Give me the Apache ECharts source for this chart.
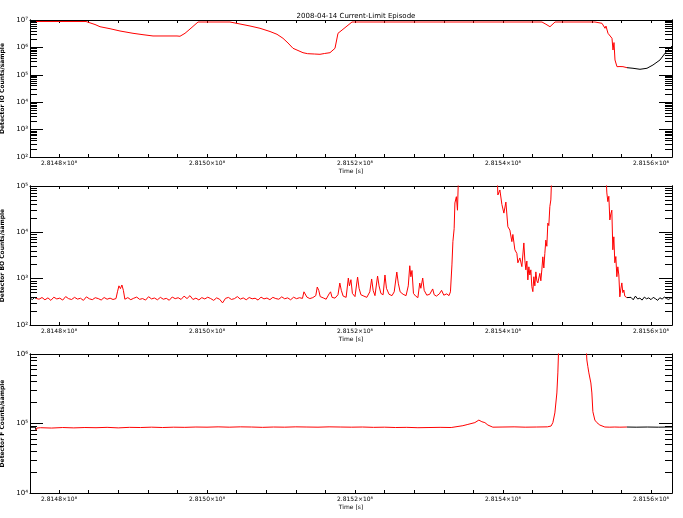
<!DOCTYPE html>
<html><head><meta charset="utf-8">
<script src="https://cdn.jsdelivr.net/npm/echarts@6/dist/echarts.min.js"></script>
<style>html,body{margin:0;padding:0;background:#fff}#c{width:683px;height:518px}</style>
</head><body><div id="c"></div>
<script>
// Time offsets (s) relative to T0 and values (counts/sample)
const T0 = 281480000;
const xMin = 281476080, xMax = 281562840;
const xMajorTicks = [281480000, 281500000, 281520000, 281540000, 281560000];
const xAllTicks = [281480000,281484000,281488000,281492000,281496000,281500000,281504000,281508000,281512000,281516000,281520000,281524000,281528000,281532000,281536000,281540000,281544000,281548000,281552000,281556000,281560000];
const panelTitles = ['Detector IO Counts/sample', 'Detector BO Counts/sample', 'Detector F Counts/sample'];
const yRanges = [[1e2, 1e7], [1e2, 1e5], [1e4, 1e6]];
const yMajor = [[1e2,1e3,1e4,1e5,1e6,1e7],[1e2,1e3,1e4,1e5],[1e4,1e5,1e6]];

// Panel 1: Detector IO
const ioHead = [[-3920, 8.8e6]];
const ioRed = [[-3108,8.8e6],[3649,8.8e6],[3919,8.45e6],[4865,6.85e6],[5541,5.69e6],[6892,4.81e6],[8243,3.97e6],[10000,3.27e6],[11351,2.91e6],[12703,2.61e6],[15946,2.61e6],[16351,2.55e6],[17027,3.27e6],[17973,5.42e6],[18784,8.45e6],[23108,8.45e6],[24459,7.15e6],[25811,6.04e6],[27162,4.98e6],[28514,3.8e6],[29459,3.01e6],[30270,2.15e6],[30946,1.45e6],[31622,9.27e5],[32973,6.41e5],[33600,5.9e5],[34500,5.74e5],[35270,5.6e5],[35900,6.0e5],[36622,6.41e5],[37297,9.27e5],[37703,3.27e6],[38378,4.58e6],[39595,8.45e6],[65270,8.45e6],[65800,7.0e6],[66351,5.69e6],[67027,8.45e6],[72432,8.45e6],[73378,7.58e6],[73784,4.98e6],[73919,6.0e6],[74189,3.27e6],[74459,3.8e6],[74730,2.15e6],[74865,8.04e5],[75000,1.5e6],[75135,3.47e5],[75405,1.98e5],[75811,2.0e5],[76216,1.98e5],[76757,1.82e5]];
const ioTail = [[77568,1.73e5],[78514,1.59e5],[79459,1.73e5],[80270,2.28e5],[81216,3.47e5],[81892,6.09e5],[82297,8.04e5],[82838,1.12e6]];

// Panel 2: Detector BO
const boHead = [[-3920,380],[-3600,355],[-3300,392]];
const boRed = [[-3100,375],[-2700,360],[-2300,392],[-1900,350],[-1500,385],[-1100,340],[-700,398],[-300,365],[100,380],[500,345],[900,410],[1300,370],[1700,355],[2100,395],[2500,362],[2900,378],[3300,340],[3700,405],[4100,368],[4500,352],[4900,388],[5300,372],[5700,346],[6100,392],[6500,360],[6900,380],[7300,355],[7700,372],[7900,520],[8100,700],[8300,610],[8500,730],[8700,560],[8900,360],[9300,390],[9700,352],[10100,378],[10500,400],[10900,358],[11300,372],[11700,345],[12100,408],[12500,366],[12900,382],[13300,350],[13700,395],[14100,360],[14500,376],[14900,342],[15300,402],[15700,370],[16100,388],[16500,356],[16900,420],[17300,372],[17700,430],[18100,355],[18500,380],[18900,348],[19300,390],[19700,365],[20100,398],[20500,372],[20900,340],[21300,385],[21700,360],[22100,300],[22500,376],[22900,394],[23300,356],[23700,370],[24100,410],[24500,362],[24900,384],[25300,350],[25700,392],[26100,368],[26500,378],[26900,345],[27300,400],[27700,366],[28100,382],[28500,352],[28900,395],[29300,372],[29700,360],[30100,405],[30500,368],[30900,385],[31300,350],[31700,398],[32100,370],[32500,388],
[32900,375],[33100,520],[33300,545],[33500,400],[33900,372],[34300,390],[34700,430],[34900,660],[35100,560],[35300,410],[35700,385],[36100,360],[36500,470],[36700,520],[36900,395],[37300,380],[37700,450],[37950,805],[38150,560],[38400,420],[38800,395],[39100,1030],[39250,700],[39450,950],[39650,480],[40000,410],[40350,1085],[40550,620],[40800,450],[41200,420],[41600,395],[42000,520],[42250,985],[42450,560],[42700,430],[43050,1140],[43250,700],[43500,480],[43800,450],[44050,1200],[44250,620],[44600,460],[45000,430],[45300,520],[45650,1390],[45850,800],[46100,520],[46500,460],[46900,430],[47200,700],[47400,1900],[47550,1100],[47700,1500],[47900,480],[48200,420],[48500,390],[48750,805],[48900,620],[49150,1030],[49350,560],[49700,440],[50100,460],[50500,600],[50700,450],[51000,420],[51400,470],[51700,560],[52000,440],[52400,470],[52700,430],[52900,520],
[53000,480],[53100,1980],[53230,6300],[53400,12000],[53500,43000],[53700,58800],[53850,30000],[54000,200000],[58000,300000],[59200,200000],
[59309,64000],[59580,82000],[59850,40000],[60120,26000],[60390,45000],[60660,13200],[60930,11200],[61200,6300],[61335,9000],[61605,4200],[61875,3500],[62010,2200],[62280,2800],[62550,1820],[62820,5900],[62955,2500],[63090,1550],[63225,2400],[63360,940],[63495,1800],[63630,1200],[63765,1550],[63900,670],[64035,525],[64170,1100],[64305,700],[64440,1400],[64575,900],[64710,810],[64980,1300],[65115,900],[65250,1550],[65385,2960],[65520,1700],[65655,3500],[65790,6800],[65925,5000],[66060,15800],[66195,14000],[66330,35800],[66465,50000],[66600,200000],[70000,300000],
[73900,200000],[74035,70800],[74170,46000],[74305,60000],[74440,18500],[74575,25000],[74710,30000],[74845,4200],[74980,8000],[75115,2200],[75250,3000],[75385,1100],[75520,1800],[75655,1200],[75790,405],[75925,600],[76060,810],[76195,500],[76330,570],[76465,420],[76600,440],[76735,390]];
const boTail = [[77000,360],[77300,395],[77600,350],[77900,420],[78200,365],[78500,380],[78800,345],[79100,400],[79400,368],[79700,385],[80000,352],[80300,395],[80600,370],[80900,340],[81200,388],[81500,362],[81800,400],[82100,372],[82400,355],[82700,390],[82840,375]];

// Panel 3: Detector F
const fHead = [[-3920,88000],[-3200,88500]];
const fRed = [[-3100,80000],[-3000,86000],[-2500,87000],[-1000,86000],[500,87500],[2000,86500],[3500,87500],[5000,87000],[6500,88000],[8000,86500],[9500,88000],[11000,87500],[12500,88500],[14000,87500],[15500,88500],[17000,88000],[18500,89000],[20000,88500],[21500,89500],[23000,88500],[24500,89500],[26000,89000],[27500,88000],[29000,89000],[30500,88500],[32000,89500],[33500,89000],[35000,88500],[36500,89500],[38000,89000],[39500,88500],[41000,89000],[42500,88000],[44000,88500],[45500,87500],[47000,88000],[48500,87000],[50000,87500],[51500,88000],[53000,87500],[54580,93000],[55255,97000],[56200,103000],[56740,112000],[56875,108000],[57145,106000],[57550,103000],[57960,95000],[58630,88500],[60000,89000],[61500,89500],[63000,88500],[64500,89000],[66000,89500],[66500,92000],[66740,103000],[67010,142000],[67280,275000],[67415,535000],[67550,1.5e6],[69500,2e6],[71200,1.5e6],[71335,820000],[71470,656000],[71605,535000],[71875,383000],[72010,275000],[72145,148000],[72415,112000],[72685,103000],[73090,95000],[73765,89000],[74440,88500],[75115,89000],[75790,88500],[76735,89000]];
const fTail = [[78000,88500],[79500,89000],[81000,88500],[82840,89000]];

const toPts = a => a.map(p => [T0 + p[0], p[1]]);
const sup = {'0':'⁰','1':'¹','2':'²','3':'³','4':'⁴','5':'⁵','6':'⁶','7':'⁷','8':'⁸','9':'⁹'};
const pow10Label = v => '10' + String(Math.round(Math.log10(v))).split('').map(c => sup[c]).join('');
const xLabel = v => (v / 1e8).toFixed(4) + '×10⁸';
const minorFor = r => { const out = []; for (let d = r[0]; d < r[1]; d *= 10) for (let m = 2; m <= 9; m++) out.push(d * m); return out; };

const gridTops = [20, 186, 354];
const gridHeights = [137, 139, 139];
const FONT = 'DejaVu Sans';
const grids = [], xAxes = [], yAxes = [], series = [];
const blackC = '#000';
const lineAx = { show: true, lineStyle: { color: blackC, width: 1 } };
const panels = [[ioHead, ioRed, ioTail], [boHead, boRed, boTail], [fHead, fRed, fTail]];
const lineSeries = (i, data, color, z) => ({ type: 'line', xAxisIndex: 2 * i, yAxisIndex: 4 * i, data: toPts(data),
    showSymbol: false, symbol: 'none', lineStyle: { color: color, width: 1 }, clip: true, silent: true, z: z });
for (let i = 0; i < 3; i++) {
  grids.push({ left: 30, right: 11, top: gridTops[i], height: gridHeights[i], outerBoundsMode: 'none', containLabel: false });
  xAxes.push({ type: 'value', gridIndex: i, position: 'bottom', min: xMin, max: xMax,
    axisLine: lineAx, splitLine: { show: false },
    axisTick: { show: true, inside: true, length: 3, customValues: xAllTicks, lineStyle: { color: blackC } },
    axisLabel: { show: true, customValues: xMajorTicks, formatter: xLabel, fontSize: 6, fontFamily: FONT, color: '#000', margin: 3 },
    name: 'Time [s]', nameLocation: 'middle', nameGap: 11, nameTextStyle: { fontSize: 6, fontFamily: FONT, color: '#000' } });
  xAxes.push({ type: 'value', gridIndex: i, position: 'top', min: xMin, max: xMax,
    axisLine: lineAx, splitLine: { show: false },
    axisTick: { show: true, inside: true, length: 3, customValues: xAllTicks, lineStyle: { color: blackC } },
    axisLabel: { show: false } });
  const r = yRanges[i], mj = yMajor[i], mn = minorFor(r);
  for (const pos of ['left', 'right']) {
    yAxes.push({ type: 'log', gridIndex: i, position: pos, min: r[0], max: r[1],
      axisLine: lineAx, splitLine: { show: false }, minorTick: { show: false },
      axisTick: { show: true, inside: true, length: 13, customValues: mj, lineStyle: { color: blackC } },
      axisLabel: { show: pos === 'left', customValues: mj, formatter: pow10Label, fontSize: 7, fontFamily: FONT, color: '#000', margin: 2 },
      name: pos === 'left' ? panelTitles[i] : '', nameLocation: 'middle', nameGap: 16, nameRotate: 90,
      nameTextStyle: { fontSize: 6, fontFamily: FONT, fontWeight: 'bold', color: '#000' } });
    yAxes.push({ type: 'log', gridIndex: i, position: pos, min: r[0], max: r[1],
      axisLine: lineAx, splitLine: { show: false },
      axisTick: { show: true, inside: true, length: 7, customValues: mn, lineStyle: { color: blackC } },
      axisLabel: { show: false } });
  }
  const [h, red, tail] = panels[i];
  // black segments before and after the highlighted interval, joined to its ends
  series.push(lineSeries(i, h.concat([red[0]]), '#000', 2));
  series.push(lineSeries(i, [red[red.length - 1]].concat(tail), '#000', 2));
  series.push(lineSeries(i, red, '#ff0000', 3));
}
const chart = echarts.init(document.getElementById('c'), null, { renderer: 'canvas' });
chart.setOption({
  animation: false,
  backgroundColor: '#fff',
  title: { text: '2008-04-14 Current-Limit Episode', left: 351, top: 8, textAlign: 'center',
    textStyle: { fontSize: 7, fontWeight: 'normal', fontFamily: FONT, color: '#000' } },
  grid: grids, xAxis: xAxes, yAxis: yAxes, series: series
});
</script></body></html>
